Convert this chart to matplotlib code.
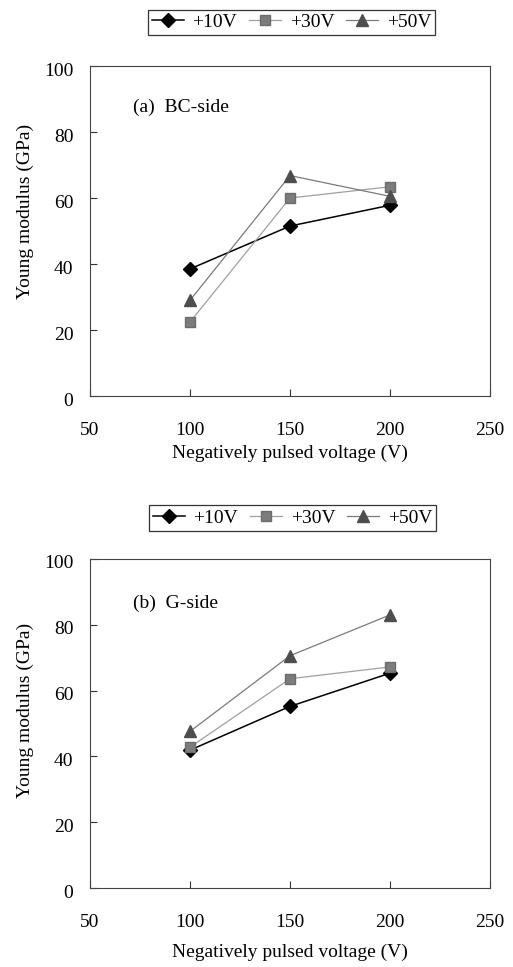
import matplotlib
matplotlib.use("Agg")
import matplotlib.pyplot as plt
import matplotlib.transforms as mtransforms

plt.rcParams['font.family'] = ['Liberation Serif', 'DejaVu Serif']

voltages = [100, 150, 200]
series = ['+10V', '+30V', '+50V']
bc_10 = [38.5, 51.5, 57.8]
bc_30 = [22.4, 60.0, 63.4]
bc_50 = [29.0, 66.8, 60.5]
g_10 = [41.9, 55.2, 65.3]
g_30 = [42.8, 63.6, 67.2]
g_50 = [47.6, 70.6, 83.0]
x_ticks = [50, 100, 150, 200, 250]
y_ticks = [0, 20, 40, 60, 80, 100]

W, H = 513, 967
FS = 14
fig = plt.figure(figsize=(W / 100, H / 100), dpi=100)

styles = [
    dict(marker='D', color='black', markerfacecolor='black', markeredgecolor='black',
         markersize=7.5, linewidth=1.1),
    dict(marker='s', color='#a0a0a0', markerfacecolor='#7c7c7c', markeredgecolor='#6c6c6c',
         markersize=7.5, linewidth=0.9),
    dict(marker='^', color='#7a7a7a', markerfacecolor='#4e4e4e', markeredgecolor='#4e4e4e',
         markersize=8.5, linewidth=0.9),
]


def make_panel(top_px, bottom_px, data, label, label_y, legend_center_px,
               xlabelpad, ylabel_frac):
    ax = fig.add_axes([90 / W, (H - bottom_px) / H, 400 / W, (bottom_px - top_px) / H])
    lines = []
    for vals, st, name in zip(data, styles, series):
        ln, = ax.plot(voltages, vals, label=name, **st)
        lines.append(ln)
    ax.set_xlim(50, 250)
    ax.set_ylim(0, 100)
    ax.set_xticks(x_ticks)
    ax.set_yticks(y_ticks)
    ax.tick_params(direction='in', length=5, width=0.8, labelsize=FS,
                   color='#333333')
    ax.tick_params(axis='x', pad=19)
    ax.tick_params(axis='y', pad=12)
    offset = mtransforms.ScaledTranslation(0, -3 / 100, fig.dpi_scale_trans)
    for lab in ax.get_yticklabels():
        lab.set_transform(lab.get_transform() + offset)
    for s in ax.spines.values():
        s.set_linewidth(0.8)
        s.set_color('#444444')
    ax.set_xlabel('Negatively pulsed voltage (V)', fontsize=FS, labelpad=xlabelpad)
    ax.set_ylabel('Young modulus (GPa)', fontsize=FS)
    ax.yaxis.set_label_coords(-56 / 400, ylabel_frac)
    ax.text(71.5, label_y, label, fontsize=FS, ha='left', va='center')
    leg = fig.legend(handles=lines, loc='center', ncol=3,
                     bbox_to_anchor=(legend_center_px[0] / W, 1 - legend_center_px[1] / H),
                     frameon=True, fancybox=False, edgecolor='black', fontsize=FS,
                     handlelength=1.65, handletextpad=0.45, columnspacing=0.6,
                     borderpad=0.2, borderaxespad=0)
    leg.get_frame().set_linewidth(0.9)
    return ax


make_panel(66, 396, [bc_10, bc_30, bc_50], '(a)  BC-side', 87.5, (291.5, 22.5), 4, 0.56)
make_panel(559, 888, [g_10, g_30, g_50], '(b)  G-side', 86.5, (292.5, 518), 9, 0.54)

fig.savefig('out.png', dpi=100)
